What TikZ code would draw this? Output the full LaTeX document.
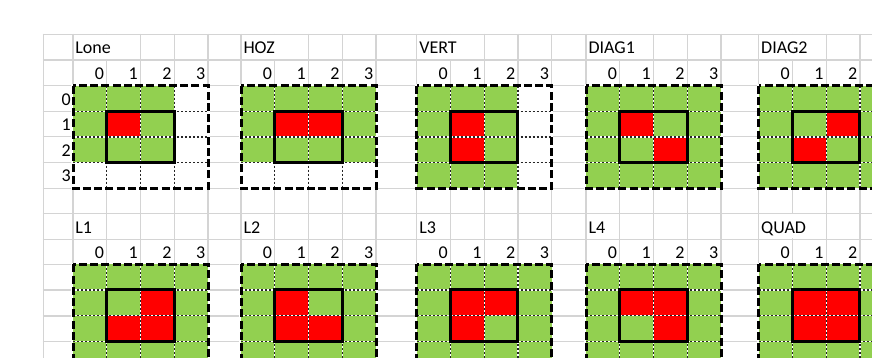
\documentclass[tikz,border=0pt]{standalone}
\usepackage{fontspec}
\setmainfont{Carlito}
\definecolor{lgreen}{RGB}{146,208,80}
\definecolor{xred}{RGB}{255,0,0}
\definecolor{gridc}{RGB}{212,212,212}
\tikzset{
  gridln/.style={draw=gridc, line width=1.4pt},
  hideln/.style={draw=white, line width=2.2pt},
  txt/.style={inner sep=0pt, outer sep=0pt, font=\fontsize{18}{21.6}\selectfont},
  dotw/.style={draw=white, line width=1.2pt},
  dotk/.style={draw=black!85, line width=1.2pt, dash pattern=on 2pt off 2pt},
  solidb/.style={draw=black, line width=3pt},
  dashb/.style={draw=black, line width=3pt, dash pattern=on 8pt off 3.25pt}
}
\newcommand\xblock[5]{%
  \begin{scope}[shift={(#1,#2)}, x=33.75pt, y=-25.65pt]
    \fill[white] (-0.05,-0.06) rectangle (4.05,4.06);
    \fill[lgreen] (0,0) rectangle (#3,#4);
    \foreach \cc/\rr in {#5} \fill[xred] (\cc,\rr) rectangle ++(1,1);
    \foreach \ii in {1,2,3} {\draw[dotw] (\ii,0) -- (\ii,4); \draw[dotw] (0,\ii) -- (4,\ii);}
    \foreach \ii in {1,2,3} {\draw[dotk] (\ii,0) -- (\ii,4); \draw[dotk] (0,\ii) -- (4,\ii);}
    \draw[solidb] (1,1) rectangle (3,3);
    \draw[dashb] (0,0) rectangle (4,4);
  \end{scope}}
\begin{document}
\begin{tikzpicture}[x=1pt,y=-1pt]
\useasboundingbox (0,0) rectangle (872,358);
\fill[white] (0,0) rectangle (872,358);
\begin{scope}
\clip (0,0) rectangle (872,358);
% gridlines
\draw[gridln] (43.3,33.6) -- (43.3,370);
\foreach \bx in {73,241,416.7,586,758.7}
  \foreach \k in {0,...,4}
    \draw[gridln] ({\bx+\k*33.75},33.6) -- ({\bx+\k*33.75},370);
\foreach \yy in {34.3,60,85.7,111.7,136.7,162.7,188.3,213.3,239.3,264.3,290,316,341.7}
  \draw[gridln] (42.6,\yy) -- (880,\yy);
% gridlines hidden under overflowing titles
\foreach \xx in {106.75,274.75,450.45,619.75,792.45}
  \draw[hideln] (\xx,35.2) -- (\xx,59.1);
\draw[hideln] (792.45,214.2) -- (792.45,238.4);
% blocks
\xblock{73}{85.7}{3}{3}{1/1}
\xblock{241}{85.7}{4}{3}{1/1,2/1}
\xblock{416.7}{85.7}{3}{4}{1/1,1/2}
\xblock{586}{85.7}{4}{4}{1/1,2/2}
\xblock{758.7}{85.7}{4}{4}{2/1,1/2}
\xblock{73}{264.3}{4}{4}{2/1,1/2,2/2}
\xblock{241}{264.3}{4}{4}{1/1,1/2,2/2}
\xblock{416.7}{264.3}{4}{4}{1/1,2/1,1/2}
\xblock{586}{264.3}{4}{4}{1/1,2/1,2/2}
\xblock{758.7}{264.3}{4}{4}{1/1,2/1,1/2,2/2}
% titles
\node[txt, anchor=base west] (tLone) at (75.4,54) {Lone};
\node[txt, anchor=base west] (tHOZ) at (243.5,54) {HOZ};
\node[txt, anchor=base west] (tVERT) at (419.3,54) {VERT};
\node[txt, anchor=base west] (tDIAGa) at (588.5,54) {DIAG1};
\node[txt, anchor=base west] (tDIAGb) at (761.2,54) {DIAG2};
\node[txt, anchor=base west] (tLa) at (75.4,233.3) {L1};
\node[txt, anchor=base west] (tLb) at (243.5,233.3) {L2};
\node[txt, anchor=base west] (tLc) at (419.3,233.3) {L3};
\node[txt, anchor=base west] (tLd) at (588.5,233.3) {L4};
\node[txt, anchor=base west] (tQUAD) at (761.2,233.3) {QUAD};
% column numbers
\foreach \bx/\bn in {73/a,241/b,416.7/c,586/d} {
  \foreach \k in {0,...,3} {
    \node[txt, anchor=base east] (n\bn\k) at ({\bx+(\k+1)*33.75-2.7},79.5) {\k};
    \node[txt, anchor=base east] (m\bn\k) at ({\bx+(\k+1)*33.75-2.7},258.3) {\k};
  }
}
\foreach \k in {0,...,2} {
  \node[txt, anchor=base east] (ne\k) at ({758.7+(\k+1)*33.75-2.7},79.5) {\k};
  \node[txt, anchor=base east] (me\k) at ({758.7+(\k+1)*33.75-2.7},258.3) {\k};
}
% row labels
\node[txt, anchor=base east] (r0) at (70.8,105.5) {0};
\node[txt, anchor=base east] (r1) at (70.8,131) {1};
\node[txt, anchor=base east] (r2) at (70.8,156.7) {2};
\node[txt, anchor=base east] (r3) at (70.8,182) {3};
\end{scope}
\end{tikzpicture}
\end{document}
